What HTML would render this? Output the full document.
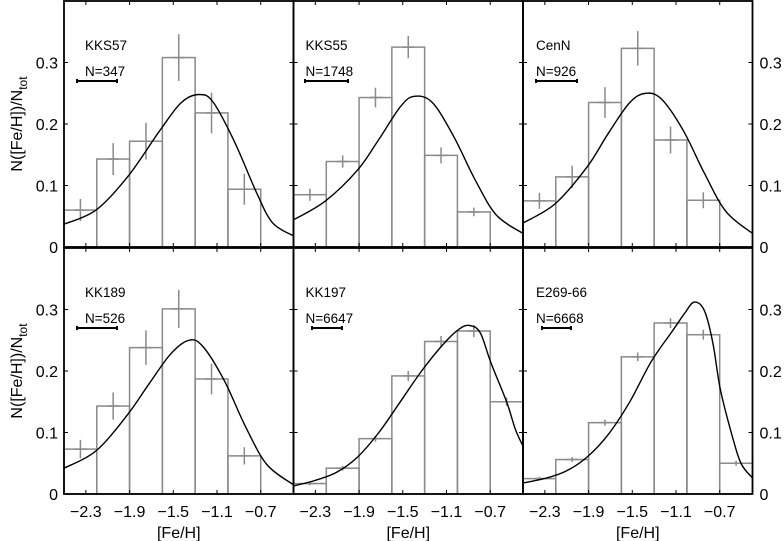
<!DOCTYPE html>
<html><head><meta charset="utf-8"><style>
html,body{margin:0;padding:0;background:#fff;}
svg{display:block;font-family:"Liberation Sans",sans-serif;}
</style></head><body>
<svg id="fig" width="784" height="541" viewBox="0 0 784 541"></svg>
<script>
const binStarts = [-2.5,-2.2,-1.9,-1.6,-1.3,-1.0,-0.7];
const panelNames = ["KKS57","KKS55","CenN","KK189","KK197","E269-66"];
const panelCounts = ["N=347","N=1748","N=926","N=526","N=6647","N=6668"];
const barsKKS57 = [0.060,0.143,0.172,0.308,0.218,0.094,0];
const errKKS57 = [0.018,0.026,0.030,0.038,0.033,0.025,0];
const barsKKS55 = [0.085,0.139,0.243,0.325,0.149,0.057,0];
const errKKS55 = [0.010,0.010,0.016,0.018,0.013,0.007,0];
const barsCenN = [0.075,0.114,0.235,0.323,0.174,0.076,0];
const errCenN = [0.013,0.018,0.025,0.028,0.022,0.013,0];
const barsKK189 = [0.073,0.143,0.238,0.301,0.187,0.062,0];
const errKK189 = [0.015,0.022,0.028,0.031,0.025,0.014,0];
const barsKK197 = [0.017,0.042,0.090,0.192,0.248,0.265,0.150];
const errKK197 = [0.003,0.004,0.005,0.008,0.009,0.010,0.007];
const barsE269 = [0.025,0.056,0.116,0.223,0.278,0.259,0.050];
const errE269 = [0.003,0.004,0.005,0.007,0.008,0.008,0.004];
const fitXKKS57 = [-2.5,-2.207,-1.914,-1.621,-1.426,-1.26,-1.133,-0.937,-0.742,-0.595,-0.4];
const fitYKKS57 = [0.037,0.060,0.115,0.190,0.235,0.248,0.235,0.170,0.090,0.040,0.018];
const fitXKKS55 = [-2.5,-2.207,-1.914,-1.719,-1.523,-1.396,-1.23,-1.035,-0.84,-0.644,-0.4];
const fitYKKS55 = [0.044,0.075,0.125,0.175,0.228,0.245,0.235,0.180,0.110,0.052,0.022];
const fitXCenN = [-2.5,-2.207,-1.914,-1.719,-1.523,-1.377,-1.23,-1.035,-0.84,-0.644,-0.4];
const fitYCenN = [0.039,0.070,0.130,0.185,0.235,0.250,0.240,0.190,0.120,0.058,0.022];
const fitXKK189 = [-2.5,-2.207,-1.914,-1.719,-1.523,-1.357,-1.23,-1.035,-0.84,-0.644,-0.4];
const fitYKK189 = [0.042,0.070,0.130,0.180,0.228,0.250,0.240,0.185,0.110,0.048,0.015];
const fitXKK197 = [-2.5,-2.305,-2.109,-1.914,-1.719,-1.523,-1.328,-1.133,-0.986,-0.888,-0.791,-0.693,-0.55,-0.47,-0.4];
const fitYKK197 = [0.013,0.022,0.035,0.060,0.100,0.150,0.200,0.243,0.268,0.274,0.262,0.213,0.150,0.105,0.078];
const fitXE269 = [-2.5,-2.305,-2.109,-1.914,-1.719,-1.523,-1.328,-1.133,-1.016,-0.933,-0.84,-0.762,-0.693,-0.576,-0.5,-0.4];
const fitYE269 = [0.018,0.025,0.037,0.060,0.097,0.150,0.215,0.265,0.295,0.312,0.298,0.245,0.169,0.088,0.048,0.026];
const xTicks = [-2.3,-1.9,-1.5,-1.1,-0.7];
const xTickLabels = ["\u22122.3","\u22121.9","\u22121.5","\u22121.1","\u22120.7"];
const yTicks = [0,0.1,0.2,0.3];
const yTickLabels = ["0","0.1","0.2","0.3"];

const NS="http://www.w3.org/2000/svg";
const svg=document.getElementById('fig');
function mk(tag,attrs,parent){const e=document.createElementNS(NS,tag);for(const k in attrs)e.setAttribute(k,attrs[k]);(parent||svg).appendChild(e);return e;}
function smooth(pts){
 let d='M'+pts[0][0].toFixed(1)+','+pts[0][1].toFixed(1);
 for(let i=0;i<pts.length-1;i++){
  const p0=pts[Math.max(0,i-1)],p1=pts[i],p2=pts[i+1],p3=pts[Math.min(pts.length-1,i+2)];
  const c1x=p1[0]+(p2[0]-p0[0])/6,c1y=p1[1]+(p2[1]-p0[1])/6;
  const c2x=p2[0]-(p3[0]-p1[0])/6,c2y=p2[1]-(p3[1]-p1[1])/6;
  d+=` C${c1x.toFixed(1)},${c1y.toFixed(1)} ${c2x.toFixed(1)},${c2y.toFixed(1)} ${p2[0].toFixed(1)},${p2[1].toFixed(1)}`;
 }
 return d;
}
const X0=-2.5,X1=-0.4,Y1=0.4;
const colL=[64,293.5,523],W=229.5,rowZero=[247,494],H=246;
const barBinW=0.3;
const panels=[
 [barsKKS57,errKKS57,fitXKKS57,fitYKKS57,[77,117]],
 [barsKKS55,errKKS55,fitXKKS55,fitYKKS55,[305,348]],
 [barsCenN,errCenN,fitXCenN,fitYCenN,[536,577]],
 [barsKK189,errKK189,fitXKK189,fitYKK189,[77,117]],
 [barsKK197,errKK197,fitXKK197,fitYKK197,[312,342]],
 [barsE269,errE269,fitXE269,fitYE269,[542,571]]
];
panels.forEach((p,i)=>{
 const col=i%3,row=Math.floor(i/3);
 const left=colL[col],zero=rowZero[row],top=zero-H;
 const sx=v=>left+(v-X0)/(X1-X0)*W;
 const sy=v=>zero-v/Y1*H;
 const g=mk('g',{});
 
 
 p[0].forEach((v,j)=>{
  if(v<=0)return;
  const x=sx(binStarts[j]),x2=sx(binStarts[j]+barBinW);
  const r=mk('rect',{x:x,y:sy(v),width:x2-x,height:zero-sy(v),fill:'none',stroke:'#8a8a8a','stroke-width':1.5},g);
  
  
  const cx=sx(binStarts[j]+barBinW/2),e=p[1][j];
  const eb=mk('path',{d:`M${cx},${sy(v+e)}V${sy(v-e)}M${cx-6},${sy(v)}H${cx+6}`,stroke:'#8a8a8a','stroke-width':1.5,fill:'none'},g);
  
  
 });
 const pts=p[2].map((x,j)=>[sx(x),sy(p[3][j])]);
 const c=mk('path',{d:smooth(pts),stroke:'#000','stroke-width':1.4,fill:'none','stroke-linejoin':'round'},g);
 
 
 xTicks.forEach(t=>{const x=sx(t);mk('path',{d:`M${x},${zero}v-4M${x},${top}v4`,stroke:'#000','stroke-width':1},g);});
 yTicks.slice(1).forEach(t=>{const y=sy(t);mk('path',{d:`M${left},${y}h4M${left+W},${y}h-4`,stroke:'#000','stroke-width':1},g);});
 const fr=mk('rect',{x:left,y:top,width:W,height:H,fill:'none',stroke:'#000','stroke-width':1.8},g);
 
 
 const ty=top+49;
 const tx=left+(col==0?21:col==1?12:13);
 const nm=mk('text',{x:tx,y:ty,'font-size':13.5},g);nm.textContent=panelNames[i];
 
 
 const nc=mk('text',{x:tx,y:ty+26,'font-size':13.5},g);nc.textContent=panelCounts[i];
 
 
 const sb=p[4],by=top+80;
 const s=mk('path',{d:`M${sb[0]},${by}H${sb[1]}M${sb[0]},${by-2}v4M${sb[1]},${by-2}v4`,stroke:'#000','stroke-width':2},g);
 
 
 if(row==1){
  xTicks.forEach((t,k)=>{const tl=mk('text',{x:sx(t),y:517,'font-size':16,'text-anchor':'middle'},g);tl.textContent=xTickLabels[k];
   
   });
  const xl=mk('text',{x:left+W/2,y:538,'font-size':16,'text-anchor':'middle'},g);xl.textContent='[Fe/H]';
  
  
 }
 if(col==0||col==2){
  yTicks.forEach((t,k)=>{
   const tl=mk('text',{x:col==0?left-6:left+W+7,y:sy(t)+6,'font-size':16,'text-anchor':col==0?'end':'start'},g);tl.textContent=yTickLabels[k];
   
   
  });
 }
 if(col==0){
  const cy=top+H/2;
  const yl=mk('text',{x:0,y:0,'font-size':16,'text-anchor':'middle',transform:`translate(22,${cy}) rotate(-90)`},g);
  yl.innerHTML='N([Fe/H])/N<tspan font-size="12" dy="5">tot</tspan>';
  
  
 }
});
</script>
</body></html>
